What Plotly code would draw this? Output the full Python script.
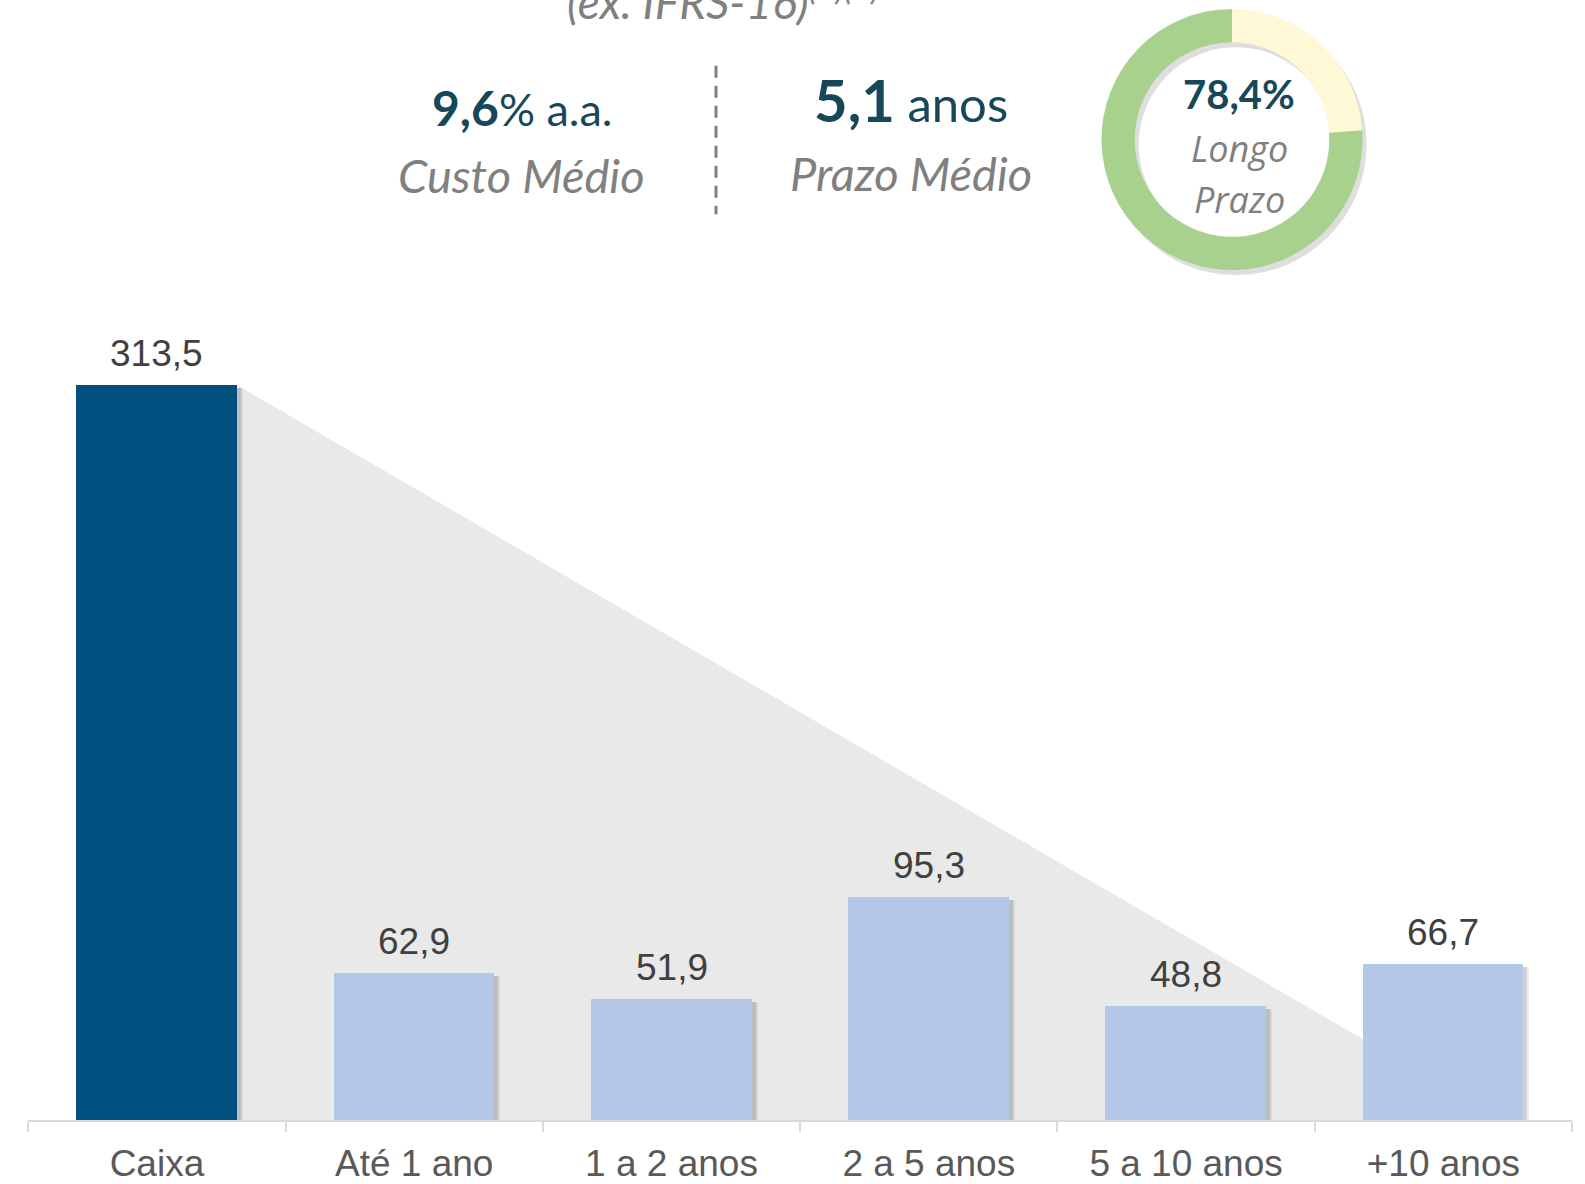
import plotly.graph_objects as go

# ---- data ----
categories = ["Caixa", "Até 1 ano", "1 a 2 anos", "2 a 5 anos", "5 a 10 anos", "+10 anos"]
values = [313.5, 62.9, 51.9, 95.3, 48.8, 66.7]
bar_colors = ["#00507F", "#B4C7E7", "#B4C7E7", "#B4C7E7", "#B4C7E7", "#B4C7E7"]
donut_labels = ["Curto Prazo", "Longo Prazo"]
donut_values = [23.9, 76.1]  # slice sizes as drawn in the picture
kpi_cost = "9,6"
kpi_term = "5,1"
kpi_long = "78,4%"

W, H = 1585, 1184
TEAL = "#17485A"
GRAY = "#808080"

def px_x(x):
    return x / W

def px_y(y):
    return 1 - y / H

bar_w = 0.625
axis_left, axis_right = 28.3, 1572.0
axis_base = 1124.0
px_per_unit = 2.352
y_top = axis_base / px_per_unit

labels = [f"{v:.1f}".replace(".", ",") for v in values]

fig = go.Figure()

# bar shadow (soft, two layers)
cat_px = (axis_right - axis_left) / len(categories)
for dx, alpha in [(6, 0.07), (4, 0.12)]:
    fig.add_trace(go.Bar(
        x=categories, y=[v - 3 / px_per_unit for v in values],
        width=bar_w, offset=-bar_w / 2 + dx / cat_px,
        marker=dict(color=f"rgba(0,0,0,{alpha})", line=dict(width=0)),
        hoverinfo="skip", showlegend=False,
    ))
fig.add_trace(go.Bar(
    x=categories, y=values, width=bar_w,
    marker=dict(color=bar_colors, line=dict(width=0)),
    showlegend=False,
))

# gray triangle behind bars, from top-right corner of the Caixa bar
tri_x0 = bar_w / 2
tri_x_end = 5.23
fig.add_shape(type="path", xref="x", yref="y", layer="below",
              path=f"M {tri_x0},{values[0]} L {tri_x_end},0 L {tri_x0},0 Z",
              fillcolor="#E9E9E9", line=dict(width=0))

# donut
cx, cy, r = 1232.0, 140.0, 131.0
sx, sy = 4, 5
fig.add_trace(go.Pie(
    values=[1], labels=["shadow"], hole=0.745, sort=False,
    marker=dict(colors=["rgba(0,0,0,0.13)"], line=dict(width=0)),
    textinfo="none", hoverinfo="skip", showlegend=False,
    domain=dict(x=[px_x(cx + sx - r), px_x(cx + sx + r)], y=[px_y(cy + sy + r), px_y(cy + sy - r)]),
))
fig.add_trace(go.Pie(
    values=donut_values, labels=donut_labels, hole=0.745, sort=False,
    direction="clockwise", rotation=0,
    marker=dict(colors=["#FFF8D6", "#A9D18E"], line=dict(width=0)),
    textinfo="none", showlegend=False,
    domain=dict(x=[px_x(cx - r), px_x(cx + r)], y=[px_y(cy + r), px_y(cy - r)]),
))

ann = []
# bar value labels
for c, v, t in zip(categories, values, labels):
    ann.append(dict(text=t, x=c, y=v, xref="x", yref="y", xanchor="center", yanchor="bottom",
                    yshift=9, showarrow=False,
                    font=dict(family="Liberation Sans, Arial", size=37, color="#404040")))

def add_text(text, x, y, size, color, italic=False, family="Lato"):
    ann.append(dict(text=text, x=px_x(x), y=px_y(y), xref="paper", yref="paper",
                    xanchor="center", yanchor="middle", showarrow=False,
                    font=dict(family=family, size=size, color=color,
                              style="italic" if italic else "normal")))

add_text("(ex. IFRS-16)<sup>(1)(2)</sup>", 723, -2, 46, GRAY, italic=True)
add_text(f"<span style='font-size:48px'><b>{kpi_cost}</b></span>% a.a.", 522, 108, 45, TEAL)
add_text("Custo Médio", 521, 176, 47, GRAY, italic=True)
add_text(f"<span style='font-size:58px'><b>{kpi_term}</b></span> anos", 911, 100, 49, TEAL)
add_text("Prazo Médio", 911, 174, 47, GRAY, italic=True)
add_text(f"<b>{kpi_long}</b>", 1239, 94, 40, TEAL)
add_text("Longo", 1239, 149, 36, GRAY, italic=True, family="Open Sans")
add_text("Prazo", 1239, 200, 36, GRAY, italic=True, family="Open Sans")

shapes_extra = [dict(type="line", xref="paper", yref="paper",
                     x0=px_x(716), x1=px_x(716), y0=px_y(66), y1=px_y(215),
                     line=dict(color="#808080", width=3, dash="12px,8px"))]

fig.update_layout(
    width=W, height=H,
    margin=dict(l=0, r=0, t=0, b=0),
    paper_bgcolor="white", plot_bgcolor="rgba(0,0,0,0)",
    barmode="overlay", bargap=0,
    hovermode=False,
    annotations=ann,
    showlegend=False,
    xaxis=dict(domain=[px_x(axis_left), px_x(axis_right)], range=[-0.5, 5.5],
               type="category", showgrid=False, zeroline=False,
               showline=True, linecolor="#D9D9D9", linewidth=2,
               ticks="outside", ticklen=10, tickcolor="#D9D9D9", tickwidth=2,
               tickson="boundaries", ticklabelstandoff=9,
               tickfont=dict(family="Liberation Sans, Arial", size=37, color="#595959")),
    yaxis=dict(domain=[1 - axis_base / H, 1], range=[0, y_top], visible=False),
)
for s in shapes_extra:
    fig.add_shape(**s)

fig.write_html("out.html", config={"displayModeBar": False},
               post_script="document.body.style.margin='0px';")
